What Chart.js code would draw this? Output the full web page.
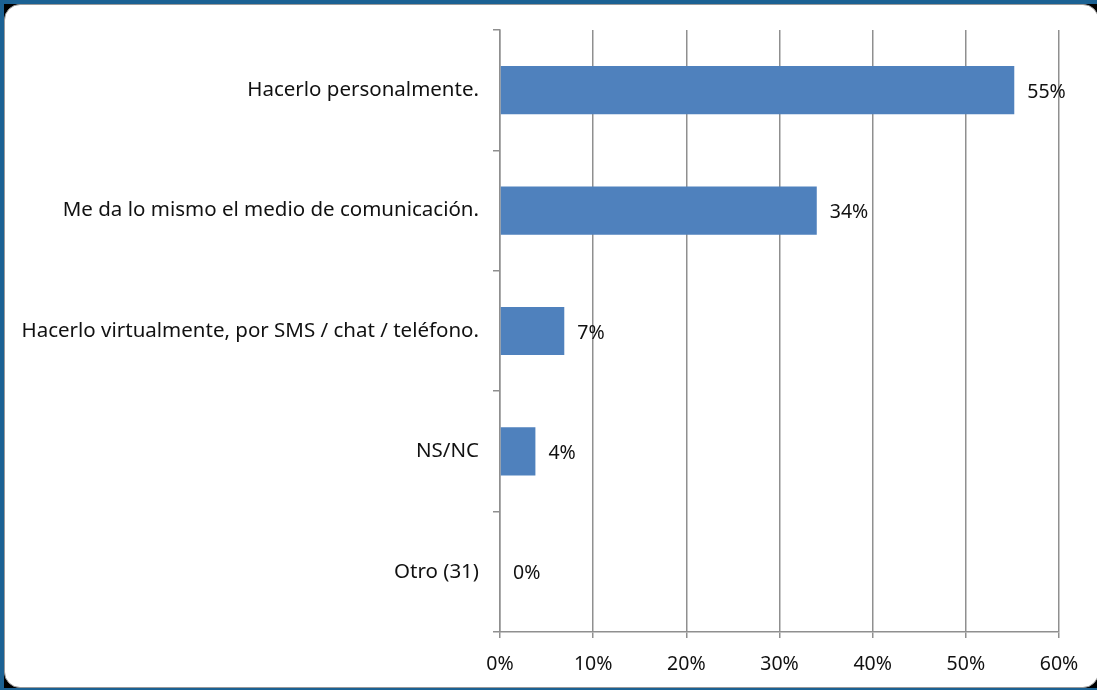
<!DOCTYPE html>
<html>
<head>
<meta charset="utf-8">
<script src="https://cdn.jsdelivr.net/npm/chart.js@4/dist/chart.umd.min.js"></script>
<style>
  html, body { margin: 0; padding: 0; width: 1097px; height: 690px; overflow: hidden; background: #1b6193; }
  #back { position: absolute; left: 4px; top: 4px; width: 1095px; height: 684px; background: #000; }
  #panel { position: absolute; left: 0; top: 0; width: 1093px; height: 682px; background: #fff;
           border: 1px solid #9a9a9a; border-radius: 16px; }
  #wrap { position: absolute; left: 0; top: 0; width: 1097px; height: 690px; }
</style>
</head>
<body>
<div id="back"><div id="panel"></div></div>
<div id="wrap"><canvas id="chart" width="1097" height="690"></canvas></div>
<script>
const categories = [
    'Hacerlo personalmente.',
    'Me da lo mismo el medio de comunicación.',
    'Hacerlo virtualmente, por SMS / chat / teléfono.',
    'NS/NC',
    'Otro (31)'
];
const values = [55.2, 34, 6.9, 3.8, 0];
const valueLabels = ['55%', '34%', '7%', '4%', '0%'];
const xTicks = [0, 10, 20, 30, 40, 50, 60];

const FONT = "'Noto Sans', 'Open Sans', sans-serif";
const GRID = '#8f8f8f';
const TEXT = '#111111';

// draws the % text to the right of each bar
const barLabels = {
    id: 'barLabels',
    afterDatasetsDraw(chart) {
        const ctx = chart.ctx;
        const meta = chart.getDatasetMeta(0);
        ctx.save();
        ctx.font = '19.5px ' + FONT;
        ctx.fillStyle = TEXT;
        ctx.textAlign = 'left';
        ctx.textBaseline = 'middle';
        meta.data.forEach((bar, i) => {
            ctx.fillText(valueLabels[i], bar.x + 13, bar.y + 2);
        });
        ctx.restore();
    }
};

const ctx = document.getElementById('chart').getContext('2d');
new Chart(ctx, {
    type: 'bar',
    data: {
        labels: categories,
        datasets: [{
            data: values,
            backgroundColor: '#4f81bd',
            borderWidth: 0,
            barPercentage: 0.8,
            categoryPercentage: 0.5
        }]
    },
    options: {
        indexAxis: 'y',
        responsive: false,
        animation: false,
        layout: { padding: { left: 0, right: 38, top: 30, bottom: 0 } },
        plugins: {
            legend: { display: false },
            tooltip: { enabled: false }
        },
        scales: {
            x: {
                min: 0,
                max: 60,
                afterBuildTicks: scale => { scale.ticks = xTicks.map(v => ({ value: v })); },
                afterFit: scale => { scale.height = 690 - 632; },
                grid: { color: GRID, lineWidth: 1.5, tickLength: 6, drawTicks: true },
                border: { color: GRID, width: 1.5 },
                ticks: {
                    padding: 15,
                    color: TEXT,
                    font: { family: FONT, size: 19.5 },
                    callback: v => v + '%'
                }
            },
            y: {
                afterFit: scale => { scale.width = 500; },
                grid: { drawOnChartArea: false, color: GRID, lineWidth: 1.5, tickLength: 7, offset: true },
                border: { color: GRID, width: 1.5 },
                ticks: {
                    padding: 14,
                    color: TEXT,
                    font: { family: FONT, size: 20.5 }
                }
            }
        }
    },
    plugins: [barLabels]
});
</script>
</body>
</html>
